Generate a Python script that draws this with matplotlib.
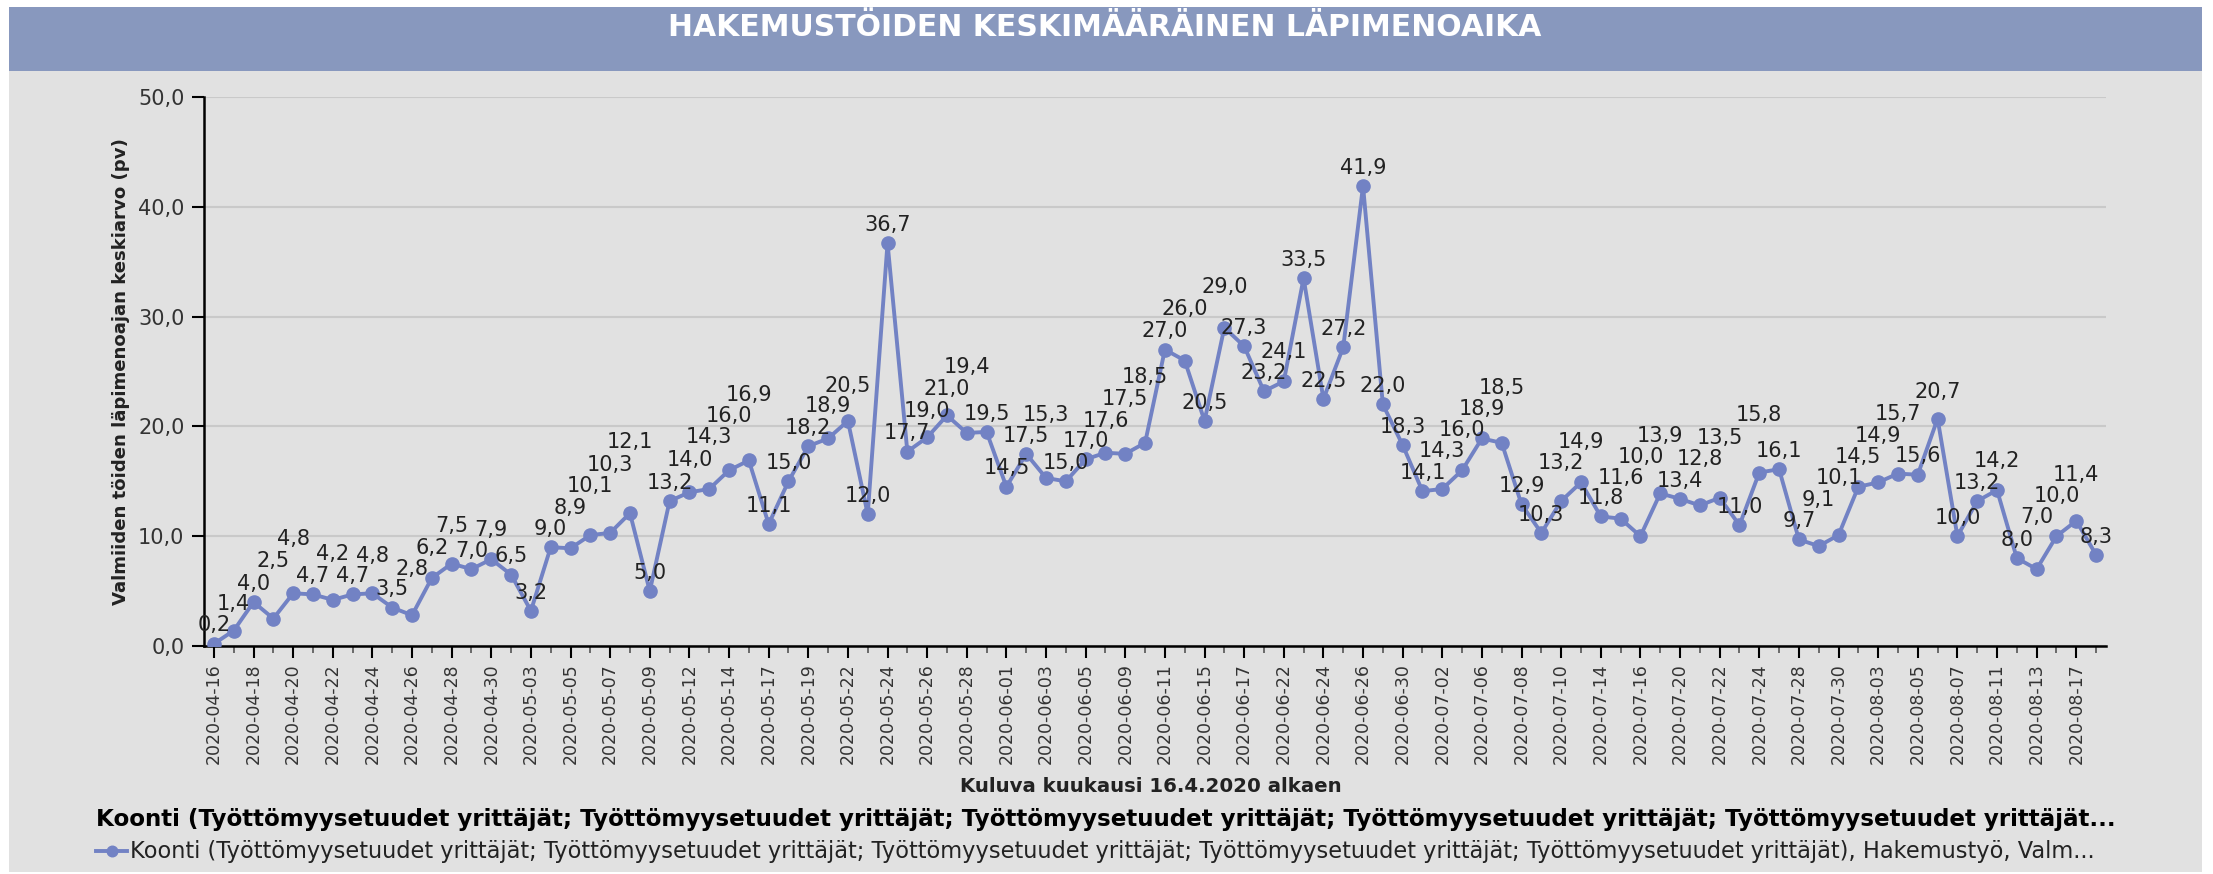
import matplotlib
matplotlib.use("Agg")
import matplotlib.pyplot as plt
from matplotlib.patches import Rectangle

# tick labels, shown on every second category (index 0, 2, ..., 94)
tick_dates = ['2020-04-16', '2020-04-18', '2020-04-20', '2020-04-22', '2020-04-24', '2020-04-26',
              '2020-04-28', '2020-04-30', '2020-05-03', '2020-05-05', '2020-05-07', '2020-05-09',
              '2020-05-12', '2020-05-14', '2020-05-17', '2020-05-19', '2020-05-22', '2020-05-24',
              '2020-05-26', '2020-05-28', '2020-06-01', '2020-06-03', '2020-06-05', '2020-06-09',
              '2020-06-11', '2020-06-15', '2020-06-17', '2020-06-22', '2020-06-24', '2020-06-26',
              '2020-06-30', '2020-07-02', '2020-07-06', '2020-07-08', '2020-07-10', '2020-07-14',
              '2020-07-16', '2020-07-20', '2020-07-22', '2020-07-24', '2020-07-28', '2020-07-30',
              '2020-08-03', '2020-08-05', '2020-08-07', '2020-08-11', '2020-08-13', '2020-08-17']

# keskiarvo (pv) per day
values = [0.2, 1.4, 4.0, 2.5, 4.8, 4.7, 4.2, 4.7, 4.8, 3.5, 2.8, 6.2, 7.5, 7.0, 7.9, 6.5,
          3.2, 9.0, 8.9, 10.1, 10.3, 12.1, 5.0, 13.2, 14.0, 14.3, 16.0, 16.9, 11.1, 15.0, 18.2, 18.9,
          20.5, 12.0, 36.7, 17.7, 19.0, 21.0, 19.4, 19.5, 14.5, 17.5, 15.3, 15.0, 17.0, 17.6, 17.5, 18.5,
          27.0, 26.0, 20.5, 29.0, 27.3, 23.2, 24.1, 33.5, 22.5, 27.2, 41.9, 22.0, 18.3, 14.1, 14.3, 16.0,
          18.9, 18.5, 12.9, 10.3, 13.2, 14.9, 11.8, 11.6, 10.0, 13.9, 13.4, 12.8, 13.5, 11.0, 15.8, 16.1,
          9.7, 9.1, 10.1, 14.5, 14.9, 15.7, 15.6, 20.7, 10.0, 13.2, 14.2, 8.0, 7.0, 10.0, 11.4, 8.3]

title = 'HAKEMUSTÖIDEN KESKIMÄÄRÄINEN LÄPIMENOAIKA'
ylabel = 'Valmiiden töiden läpimenoajan keskiarvo (pv)'
xlabel = 'Kuluva kuukausi 16.4.2020 alkaen'
rep = '; '.join(['Työttömyysetuudet yrittäjät'] * 5)
legend_title = 'Koonti (' + rep + '...'
legend_label = 'Koonti (' + rep + '), Hakemustyö, Valm...'

W, H = 2213, 874
line_col = '#7282c4'
bg = '#e1e1e1'

fig = plt.figure(figsize=(W / 100, H / 100), dpi=100, facecolor='white')

# grey panel + title bar
fig.patches.append(Rectangle((9 / W, 1 - 872 / H), 2193 / W, 865 / H, transform=fig.transFigure,
                             facecolor=bg, edgecolor='none', zorder=-10))
fig.patches.append(Rectangle((9 / W, 1 - 71 / H), 2193 / W, 64 / H, transform=fig.transFigure,
                             facecolor='#8898be', edgecolor='none', zorder=-9))
t_title = fig.text(1105 / W, 1 - 27 / H, title, color='white', fontsize=21.5, fontweight='bold',
                   ha='center', va='center')

ax = fig.add_axes([204 / W, 1 - 646 / H, 1902 / W, 549 / H])
ax.set_facecolor(bg)
x = list(range(len(values)))
line, = ax.plot(x, values, color=line_col, lw=2.8, marker='o', ms=9.5, mec=line_col, mfc=line_col,
                zorder=3)

ax.set_xlim(-0.5, len(values) - 0.5)
ax.set_ylim(0, 50)
ax.set_yticks(range(0, 51, 10))
ax.set_yticklabels([f'{v:.1f}'.replace('.', ',') for v in range(0, 51, 10)], fontsize=15, color='#333333')
ax.set_xticks(x[::2])
ax.set_xticklabels(tick_dates, rotation=90, fontsize=12.5, color='#333333')
ax.set_xticks(x[1::2], minor=True)
ax.tick_params(axis='y', length=9, width=1.5, pad=5)
ax.tick_params(axis='x', which='major', length=8.5, width=1.5, pad=4)
ax.tick_params(axis='x', which='minor', length=5, width=1.2, color='#555555')
ax.grid(axis='y', color='#c9c9c9', lw=1.5)
ax.set_axisbelow(True)
for s in ['top', 'right']:
    ax.spines[s].set_visible(False)
for s in ['left', 'bottom']:
    ax.spines[s].set_linewidth(1.8)
    ax.spines[s].set_color('black')

t_ylab = ax.set_ylabel(ylabel, fontsize=12.5, fontweight='bold', color='#222222')
ax.yaxis.set_label_coords(-74 / 1902, 0.5)
t_xlab = fig.text(1151 / W, 1 - 786 / H, xlabel, fontsize=12.5, fontweight='bold', color='#222222',
                  ha='center', va='center')

leg = fig.legend(handles=[line], labels=[legend_label], title=legend_title, loc='upper left',
                 bbox_to_anchor=(96 / W, 1 - 808 / H), frameon=False, alignment='left',
                 fontsize=14, title_fontproperties={'weight': 'bold', 'size': 14},
                 handlelength=1.6, handletextpad=0.15, borderpad=0, borderaxespad=0,
                 labelspacing=0.45, markerscale=0.8)
for t in leg.get_texts():
    t.set_color('#222222')

# data labels
labels = []
for i, v in enumerate(values):
    a = ax.annotate(f'{v:.1f}'.replace('.', ','), (i, v), xytext=(0, 6), textcoords='offset points',
                    ha='center', va='bottom', fontsize=15, color='#222222', zorder=5)
    labels.append(a)

fig.canvas.draw()
r = fig.canvas.get_renderer()


def fit(txt, target):
    w = txt.get_window_extent(r).width
    txt.set_fontsize(txt.get_fontsize() * target / w)


fit(t_xlab, 383)
fit(leg.get_title(), 2030)
fit(leg.get_texts()[0], 1976)
w = t_ylab.get_window_extent(r).height
t_ylab.set_fontsize(t_ylab.get_fontsize() * 470 / w)

# push labels up when they run into earlier ones
placed = []
for a in labels:
    off = 6
    bb = a.get_window_extent(r).expanded(1.02, 1.0)
    while any(bb.overlaps(p) for p in placed) and off < 300:
        off += 2
        a.xyann = (0, off)
        bb = a.get_window_extent(r).expanded(1.02, 1.0)
    placed.append(bb)

fig.savefig('out.png', dpi=100, facecolor='white')
